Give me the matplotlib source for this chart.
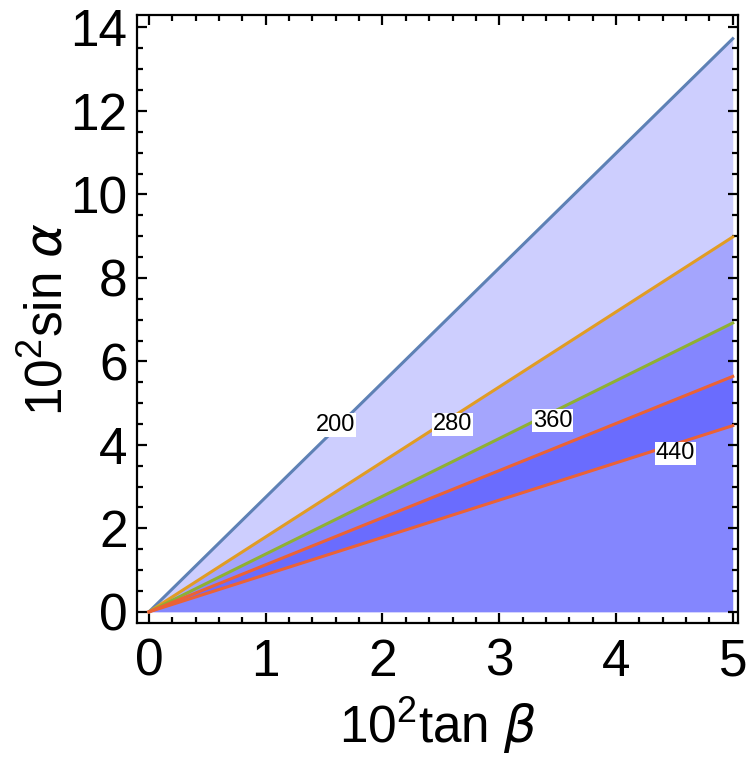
import numpy as np
import matplotlib
matplotlib.use("Agg")
import matplotlib.pyplot as plt
from matplotlib.ticker import MultipleLocator

plt.rcParams['font.family'] = ['Liberation Sans Narrow', 'Liberation Sans', 'DejaVu Sans']
plt.rcParams['mathtext.fontset'] = 'custom'
plt.rcParams['mathtext.rm'] = 'Liberation Sans Narrow'
plt.rcParams['mathtext.it'] = 'Liberation Sans Narrow:italic'

# contour lines (10^2 tan beta, 10^2 sin alpha)
tanb = [0.0, 5.0]
sina_200 = [0.0, 13.73]
sina_280 = [0.0, 8.98]
sina_360 = [0.0, 6.92]
sina_440_hi = [0.0, 5.64]
sina_440_lo = [0.0, 4.46]

levels = ['200', '280', '360', '440']
label_x = [1.60, 2.60, 3.46, 4.51]
label_y = [4.48, 4.49, 4.58, 3.80]

line_colors = ['#5e81b5', '#e19c24', '#8fb032', '#eb6235']
band_colors = ['#cdcefe', '#a4a5fd', '#8486fe', '#6a6cfe']

fig = plt.figure(figsize=(7.5, 7.65), dpi=100)
ax = fig.add_axes([0.183, 0.186, 0.801, 0.794])

x = np.array(tanb)
# filled bands, bottom to top
ax.fill_between(x, 0, sina_440_lo, color=band_colors[2], lw=0)
ax.fill_between(x, sina_440_lo, sina_440_hi, color=band_colors[3], lw=0)
ax.fill_between(x, sina_440_hi, sina_360, color=band_colors[2], lw=0)
ax.fill_between(x, sina_360, sina_280, color=band_colors[1], lw=0)
ax.fill_between(x, sina_280, sina_200, color=band_colors[0], lw=0)

ax.plot(x, sina_200, color=line_colors[0], lw=2.2)
ax.plot(x, sina_280, color=line_colors[1], lw=2.2)
ax.plot(x, sina_360, color=line_colors[2], lw=2.2)
ax.plot(x, sina_440_hi, color=line_colors[3], lw=2.2)
ax.plot(x, sina_440_lo, color=line_colors[3], lw=2.2)

for lab, lx, ly in zip(levels, label_x, label_y):
    ax.text(lx, ly, lab, fontsize=17, ha='center', va='center',
            family=['Liberation Sans', 'DejaVu Sans'],
            bbox=dict(facecolor='white', edgecolor='none', pad=0.5))

ax.set_xlim(-0.10, 5.045)
ax.set_ylim(-0.26, 14.29)

ax.xaxis.set_major_locator(MultipleLocator(1))
ax.xaxis.set_minor_locator(MultipleLocator(0.2))
ax.yaxis.set_major_locator(MultipleLocator(2))
ax.yaxis.set_minor_locator(MultipleLocator(0.5))

ax.tick_params(which='both', direction='in', top=True, right=True, width=1.6)
ax.tick_params(which='major', length=7, labelsize=37)
ax.tick_params(which='minor', length=4)
ax.tick_params(axis='x', which='major', pad=11)
ax.tick_params(axis='y', which='major', pad=7)

for sp in ax.spines.values():
    sp.set_linewidth(1.6)

ax.set_xlabel(r'$\mathregular{10^2}$tan $\it{\beta}$', fontsize=37, labelpad=6)
ax.set_ylabel(r'$\mathregular{10^2}$sin $\it{\alpha}$', fontsize=37, labelpad=-2)

fig.savefig('out.png', dpi=100)
